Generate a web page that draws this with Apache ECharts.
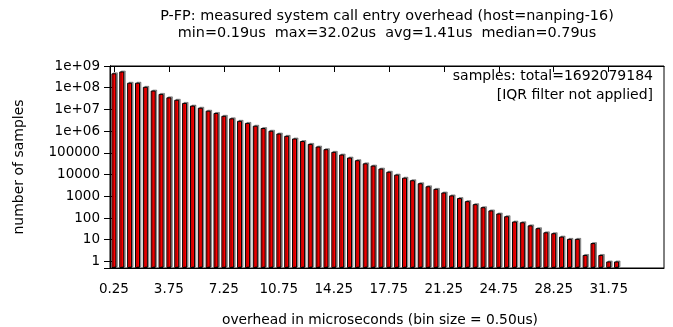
<!DOCTYPE html>
<html>
<head>
<meta charset="utf-8">
<script src="https://cdn.jsdelivr.net/npm/echarts@6/dist/echarts.min.js"></script>
<style>
  html, body { margin: 0; padding: 0; background: #fff; }
  #chart { width: 673px; height: 327px; }
</style>
</head>
<body>
<div id="chart"></div>
<script>
// histogram bins: bin size 0.50us, first bin centred at 0.25us
const binStart = 0.25;
const binSize = 0.5;
const counts = [
  460000000, 560000000, 170000000, 170000000, 110000000, 74000000, 52000000, 36000000, 28000000, 20000000,
  15000000, 12000000, 8800000, 6900000, 5100000, 3900000, 3000000, 2400000, 1780000, 1390000,
  1050000, 780000, 610000, 460000, 350000, 260000, 196000, 148000, 112000, 84000,
  61000, 46000, 33000, 26000, 19000, 13600, 10000, 7200, 5500, 4000,
  2900, 2200, 1500, 1100, 830, 600, 435, 315, 224, 162,
  121, 69, 64, 46, 34, 22, 20, 14, 11, 11,
  2, 7, 2, 1, 1
];
const xTicks = [0.25, 3.75, 7.25, 10.75, 14.25, 17.75, 21.25, 24.75, 28.25, 31.75];
const yTicks = [1, 10, 100, 1000, 10000, 100000, 1e6, 1e7, 1e8, 1e9];
const yTickLabels = ['1', '10', '100', '1000', '10000', '100000', '1e+06', '1e+07', '1e+08', '1e+09'];

const titleLines = [
  'P-FP: measured system call entry overhead (host=nanping-16)',
  'min=0.19us  max=32.02us  avg=1.41us  median=0.79us'
];
const noteLines = ['samples: total=1692079184', '[IQR filter not applied]'];

const font = 'DejaVu Sans';
const fs = 13.5;

const barData = counts.map((c, i) => [binStart + i * binSize, c]);

const chart = echarts.init(document.getElementById('chart'));
chart.setOption({
  animation: false,
  backgroundColor: '#fff',
  textStyle: { fontFamily: font },
  title: {
    text: titleLines.join('\n'),
    left: 387,
    textAlign: 'center',
    top: 7.5,
    padding: 0,
    textStyle: { fontFamily: font, fontSize: 14.4, fontWeight: 'normal', color: '#000', lineHeight: 17, align: 'center' }
  },
  grid: {
    left: 110, right: 9, top: 66, bottom: 59,
    containLabel: false,
    outerBoundsMode: 'none',
    show: true, borderColor: '#000', borderWidth: 1
  },
  xAxis: [{
    type: 'value',
    min: 0,
    max: 35.27,
    name: 'overhead in microseconds (bin size = 0.50us)',
    nameLocation: 'middle',
    nameGap: 45,
    nameTextStyle: { fontFamily: font, fontSize: 13.8, color: '#000', padding: [0, 14, 0, 0] },
    splitLine: { show: false },
    axisLine: { show: true, lineStyle: { color: '#000' } },
    axisTick: { inside: true, length: 6, customValues: xTicks, lineStyle: { color: '#000' } },
    axisLabel: {
      customValues: xTicks,
      margin: 14,
      fontFamily: font, fontSize: fs, color: '#000',
      formatter: v => v.toFixed(2)
    }
  }, {
    type: 'value',
    position: 'top',
    min: 0,
    max: 35.27,
    splitLine: { show: false },
    axisLine: { show: true, lineStyle: { color: '#000' } },
    axisTick: { inside: true, length: 6, customValues: xTicks, lineStyle: { color: '#000' } },
    axisLabel: { show: false }
  }],
  yAxis: [{
    type: 'log',
    min: 0.5,
    max: 1e9,
    startValue: 0.5,
    name: 'number of samples',
    nameLocation: 'middle',
    nameRotate: 90,
    nameGap: 84,
    nameTextStyle: { fontFamily: font, fontSize: 14, color: '#000' },
    splitLine: { show: false },
    axisLine: { show: true, lineStyle: { color: '#000' } },
    axisTick: { inside: true, length: 6, lineStyle: { color: '#000' } },
    axisLabel: {
      margin: 10,
      fontFamily: font, fontSize: fs, color: '#000',
      formatter: v => {
        const k = yTicks.findIndex(t => Math.abs(t - v) / t < 1e-6);
        return k >= 0 ? yTickLabels[k] : '';
      }
    }
  }, {
    type: 'log',
    position: 'right',
    min: 0.5,
    max: 1e9,
    splitLine: { show: false },
    axisLine: { show: true, lineStyle: { color: '#000' } },
    axisTick: { inside: true, length: 6, lineStyle: { color: '#000' } },
    axisLabel: { show: false }
  }],
  graphic: noteLines.map((t, i) => ({
    type: 'text',
    x: 653,
    y: 76.5 + i * 19,
    style: {
      text: t,
      align: 'right',
      verticalAlign: 'middle',
      font: '14px "' + font + '"',
      fill: '#000'
    }
  })),
  series: [{
    type: 'bar',
    xAxisIndex: 0,
    yAxisIndex: 0,
    data: barData,
    barWidth: 5,
    itemStyle: {
      color: '#ff0000',
      borderColor: '#000',
      borderWidth: 1,
      shadowColor: 'rgba(0,0,0,0.35)',
      shadowBlur: 0,
      shadowOffsetX: 1.5,
      shadowOffsetY: -1
    }
  }]
});
</script>
</body>
</html>
